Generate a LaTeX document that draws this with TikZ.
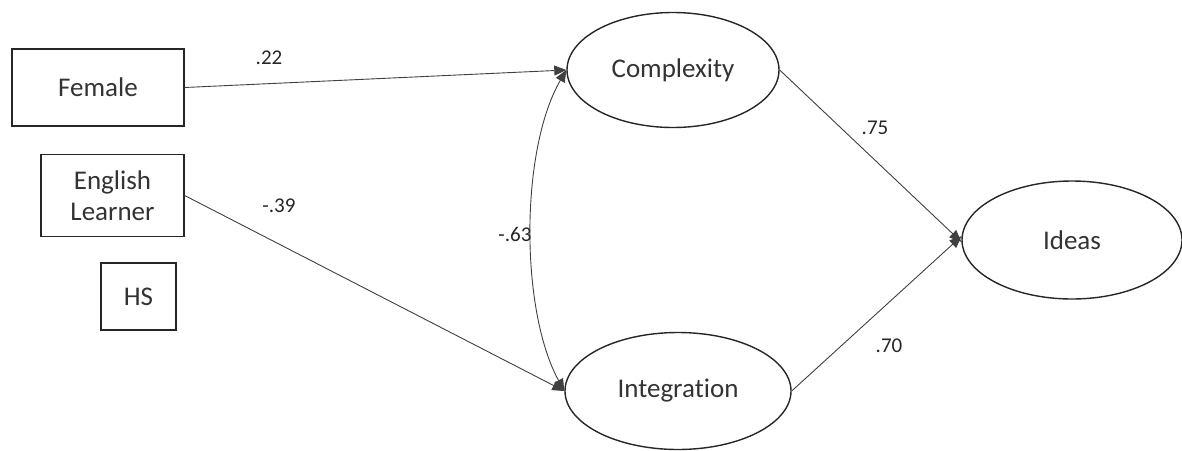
\documentclass[tikz,border=0pt]{standalone}
\usepackage{fontspec}
\setmainfont{Carlito}[Ligatures=NoCommon]
\usetikzlibrary{arrows.meta,shapes.geometric}
\begin{document}
\begin{tikzpicture}[x=1pt,y=-1pt,
  box/.style={draw=black!85,line width=1.4pt,rectangle,inner sep=0pt,align=center,font=\fontsize{27}{31}\selectfont,text=black!80},
  lat/.style={draw=black!85,line width=1.4pt,ellipse,inner sep=0pt,font=\fontsize{27}{31}\selectfont,text=black!80},
  path/.style={draw=black!75,line width=0.9pt,-{Triangle[length=12pt,width=10pt]}},
  lbl/.style={font=\fontsize{21}{25}\selectfont,text=black!85}]
\useasboundingbox (0,0) rectangle (1182,450);
\node[box,minimum width=172pt,minimum height=77pt] (fem) at (98,87.5) {Female};
\node[box,minimum width=143pt,minimum height=82pt] (el) at (112.5,195.5) {English\\Learner};
\node[box,minimum width=75pt,minimum height=67pt] (hs) at (138.5,296.5) {HS};
\node[lat,minimum width=212pt,minimum height=115pt] (cx) at (673,70) {Complexity};
\node[lat,minimum width=226pt,minimum height=117pt] (ig) at (678,391) {Integration};
\node[lat,minimum width=220pt,minimum height=118pt] (id) at (1072,240) {Ideas};
\draw[path] (fem.east) -- (cx.west);
\draw[path] (el.east) -- (ig.west);
\draw[path] (cx.east) -- (id.181);
\draw[path] (ig.east) -- (id.178);
\draw[draw=black!75,line width=0.9pt,{Triangle[length=12pt,width=10pt]}-{Triangle[length=12pt,width=10pt]}] (cx.west) .. controls (520,150) and (520,310) .. (ig.west);
\node[lbl] (l1) at (269,58) {.22};
\node[lbl] (l2) at (279,206) {-.39};
\node[lbl] (l3) at (515,234) {-.63};
\node[lbl] (l4) at (875,128) {.75};
\node[lbl] (l5) at (889,346) {.70};
\end{tikzpicture}
\end{document}
